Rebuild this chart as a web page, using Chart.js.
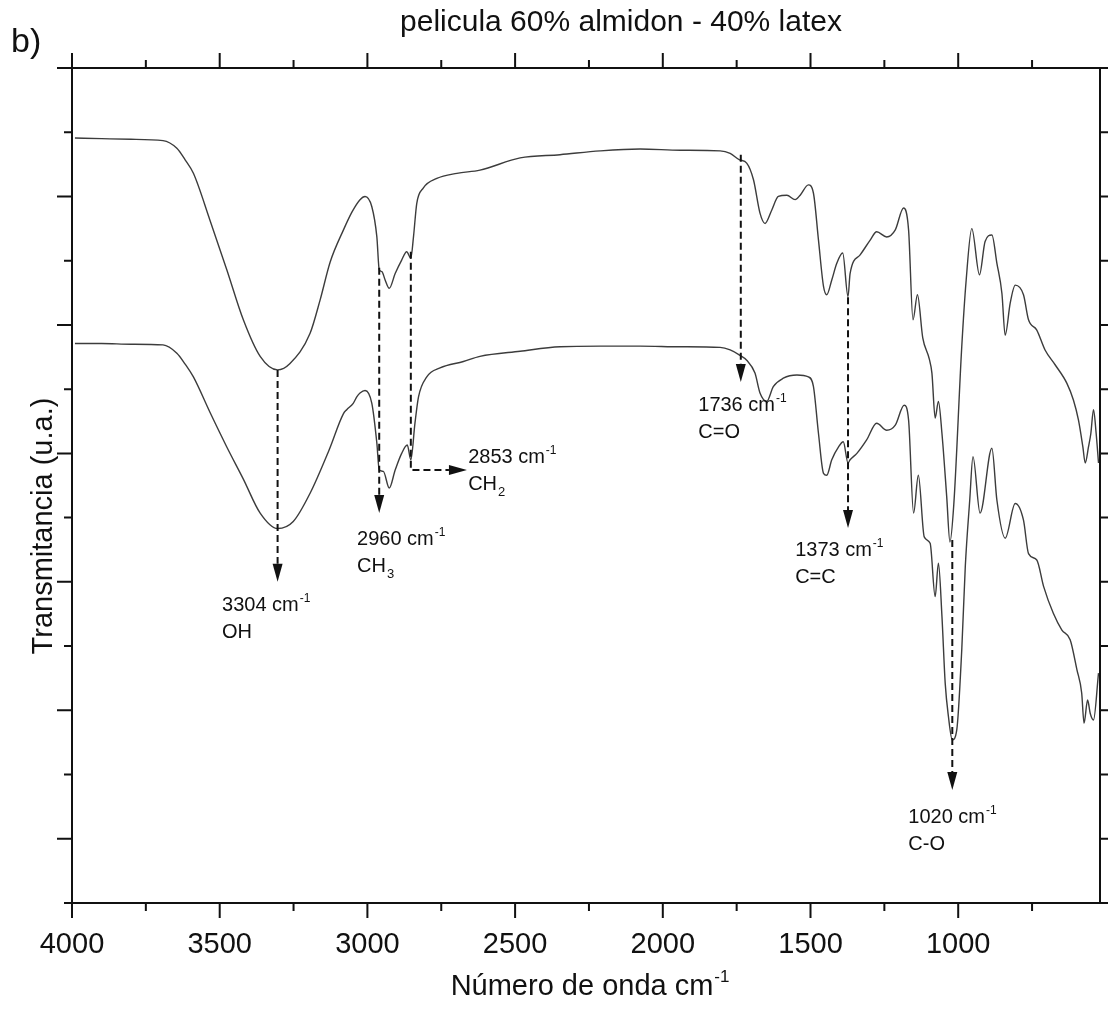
<!DOCTYPE html>
<html>
<head>
<meta charset="utf-8">
<script src="https://cdn.jsdelivr.net/npm/chart.js@4.4.1/dist/chart.umd.min.js"></script>
<style>
  html, body { margin: 0; padding: 0; background: #fff; }
  #wrap { width: 1108px; height: 1009px; }
</style>
</head>
<body>
<div id="wrap"><canvas id="ftir"></canvas></div>
<script>
// wavenumber (cm-1) and transmittance (u.a.)
const wnTop = [3990, 3900, 3800, 3692, 3645, 3617, 3589, 3533, 3476, 3420, 3363, 3304, 3262, 3194, 3160, 3126, 3081, 3052, 3025, 3008, 2985, 2968, 2960, 2951, 2940, 2926, 2906, 2884, 2867, 2853, 2844, 2833, 2811, 2765, 2697, 2619, 2483, 2348, 2212, 2077, 1941, 1806, 1772, 1740, 1716, 1693, 1671, 1654, 1631, 1609, 1580, 1552, 1535, 1507, 1490, 1473, 1456, 1445, 1428, 1411, 1391, 1373, 1366, 1332, 1298, 1276, 1242, 1213, 1185, 1168, 1153, 1138, 1120, 1098, 1089, 1078, 1067, 1055, 1039, 1028, 1015, 988, 973, 954, 928, 909, 886, 869, 852, 841, 824, 807, 779, 762, 734, 706, 672, 632, 610, 593, 578, 570, 559, 551, 542, 533, 525];
const tTop = [11.91, 11.90, 11.89, 11.87, 11.75, 11.57, 11.36, 10.63, 9.86, 9.08, 8.51, 8.30, 8.40, 8.87, 9.39, 9.98, 10.48, 10.76, 10.95, 11.00, 10.84, 10.37, 9.86, 9.83, 9.70, 9.57, 9.80, 10.01, 10.14, 10.04, 10.37, 10.89, 11.13, 11.28, 11.36, 11.41, 11.60, 11.65, 11.71, 11.74, 11.72, 11.71, 11.67, 11.57, 11.52, 11.26, 10.74, 10.58, 10.79, 11.00, 11.02, 10.95, 11.02, 11.18, 11.05, 10.32, 9.60, 9.47, 9.70, 9.96, 10.12, 9.44, 9.80, 10.09, 10.32, 10.45, 10.37, 10.48, 10.82, 10.48, 9.08, 9.47, 8.80, 8.47, 8.25, 7.55, 7.81, 7.31, 6.33, 5.62, 6.20, 8.66, 9.70, 10.50, 9.78, 10.30, 10.40, 9.96, 9.49, 8.84, 9.34, 9.62, 9.47, 9.08, 8.92, 8.61, 8.38, 8.09, 7.83, 7.52, 7.10, 6.85, 7.10, 7.31, 7.68, 7.31, 6.85];

const wnBottom = [3990, 3900, 3800, 3692, 3645, 3617, 3589, 3533, 3476, 3420, 3363, 3304, 3251, 3194, 3130, 3081, 3070, 3048, 3036, 3025, 3008, 2985, 2968, 2960, 2946, 2926, 2906, 2884, 2865, 2853, 2839, 2827, 2799, 2754, 2675, 2619, 2483, 2348, 2212, 2077, 1941, 1806, 1772, 1740, 1716, 1688, 1671, 1648, 1626, 1592, 1546, 1507, 1490, 1473, 1456, 1445, 1428, 1405, 1389, 1373, 1366, 1343, 1310, 1276, 1242, 1213, 1183, 1168, 1151, 1135, 1115, 1095, 1078, 1067, 1055, 1044, 1033, 1020, 1005, 988, 976, 961, 950, 926, 886, 869, 841, 807, 779, 762, 734, 711, 678, 649, 621, 598, 582, 574, 562, 553, 542, 525];
const tBottom = [8.71, 8.71, 8.70, 8.69, 8.56, 8.39, 8.19, 7.64, 7.10, 6.60, 6.07, 5.83, 5.94, 6.38, 7.05, 7.62, 7.68, 7.78, 7.88, 7.94, 7.98, 7.78, 7.16, 6.74, 6.72, 6.46, 6.74, 7.00, 7.13, 6.90, 7.47, 7.88, 8.19, 8.33, 8.43, 8.51, 8.59, 8.66, 8.67, 8.67, 8.66, 8.65, 8.61, 8.53, 8.45, 8.25, 7.94, 7.81, 8.04, 8.17, 8.22, 8.19, 8.04, 7.31, 6.69, 6.66, 6.90, 7.10, 7.18, 6.85, 6.90, 7.00, 7.21, 7.47, 7.36, 7.44, 7.75, 7.52, 6.07, 6.66, 5.70, 5.60, 4.77, 5.29, 4.46, 3.42, 2.90, 2.54, 2.69, 3.94, 5.24, 6.27, 6.95, 6.07, 7.08, 6.27, 5.68, 6.22, 5.96, 5.44, 5.34, 4.93, 4.51, 4.25, 4.10, 3.63, 3.27, 2.80, 3.16, 2.95, 2.85, 3.58];

// marked bands
const peakWn = [3304, 2960, 2853, 1736, 1373, 1020];
const peakGroup = ['OH', 'CH3', 'CH2', 'C=O', 'C=C', 'C-O'];

// axis ticks
const xMajorTicks = [4000, 3500, 3000, 2500, 2000, 1500, 1000];
const xMinorTicks = [3750, 3250, 2750, 2250, 1750, 1250, 750];
const yTicks = [0, 1, 2, 3, 4, 5, 6, 7, 8, 9, 10, 11, 12, 13];

const FONT = '"Liberation Sans", Arial, sans-serif';
const INK = '#111';

// where each arrow starts/ends and where its text goes (data units)
const marks = [
  { from: 8.30, to: 5.00, lx: 3492, ly: 4.55 },
  { from: 9.89, to: 6.07, lx: 3035, ly: 5.57 },
  { from: 10.14, to: 6.74, bend: 2663, lx: 2659, ly: 6.85 },
  { from: 11.65, to: 8.11, lx: 1880, ly: 7.66 },
  { from: 9.43, to: 5.84, lx: 1552, ly: 5.40 },
  { from: 5.65, to: 1.76, lx: 1169, ly: 1.25 }
];

function drawCm(ctx, px, py, num) {
  ctx.font = '20px ' + FONT;
  const s = num + ' cm';
  ctx.fillText(s, px, py);
  const w = ctx.measureText(s).width;
  ctx.font = '12px ' + FONT;
  ctx.fillText('-1', w + px + 1, py - 9);
}

function drawGroup(ctx, px, py, g) {
  ctx.font = '20px ' + FONT;
  const m = g.match(/^(CH)(\d)$/);
  if (m) {
    ctx.fillText(m[1], px, py);
    const w = ctx.measureText(m[1]).width;
    ctx.font = '13px ' + FONT;
    ctx.fillText(m[2], px + w + 1, py + 6);
  } else {
    ctx.fillText(g, px, py);
  }
}

const decorations = {
  id: 'decorations',
  afterDraw(chart) {
    const { ctx, chartArea: a, scales: { x, y } } = chart;
    ctx.save();
    ctx.strokeStyle = INK;
    ctx.fillStyle = INK;
    ctx.lineWidth = 2;

    // frame + ticks (outward on every side)
    ctx.strokeRect(a.left, a.top, a.right - a.left, a.bottom - a.top);
    ctx.beginPath();
    const xt = (v, len) => {
      const p = x.getPixelForValue(v);
      ctx.moveTo(p, a.bottom); ctx.lineTo(p, a.bottom + len);
      ctx.moveTo(p, a.top); ctx.lineTo(p, a.top - len);
    };
    xMajorTicks.forEach(v => xt(v, 15));
    xMinorTicks.forEach(v => xt(v, 8));
    yTicks.forEach(v => {
      const p = y.getPixelForValue(v);
      const len = v % 2 ? 15 : 8;
      ctx.moveTo(a.left, p); ctx.lineTo(a.left - len, p);
      ctx.moveTo(a.right, p); ctx.lineTo(a.right + len, p);
    });
    ctx.stroke();

    // dashed arrows + band labels
    ctx.textBaseline = 'alphabetic';
    ctx.textAlign = 'left';
    const head = 18, hw = 5;
    marks.forEach((m, i) => {
      const px = x.getPixelForValue(peakWn[i]);
      const y0 = y.getPixelForValue(m.from);
      const y1 = y.getPixelForValue(m.to);
      ctx.setLineDash([7, 4]);
      ctx.lineWidth = 2;
      ctx.beginPath();
      ctx.moveTo(px, y0);
      if (m.bend) {
        const bx = x.getPixelForValue(m.bend);
        ctx.lineTo(px, y1);
        ctx.lineTo(bx - head, y1);
        ctx.stroke();
        ctx.setLineDash([]);
        ctx.beginPath();
        ctx.moveTo(bx, y1); ctx.lineTo(bx - head, y1 - hw); ctx.lineTo(bx - head, y1 + hw);
        ctx.closePath(); ctx.fill();
      } else {
        ctx.lineTo(px, y1 - head);
        ctx.stroke();
        ctx.setLineDash([]);
        ctx.beginPath();
        ctx.moveTo(px, y1); ctx.lineTo(px - hw, y1 - head); ctx.lineTo(px + hw, y1 - head);
        ctx.closePath(); ctx.fill();
      }
      const lx = x.getPixelForValue(m.lx);
      const ly = y.getPixelForValue(m.ly);
      drawCm(ctx, lx, ly, peakWn[i]);
      drawGroup(ctx, lx, ly + 27, peakGroup[i]);
    });

    // titles
    ctx.font = '30px ' + FONT;
    ctx.textAlign = 'center';
    ctx.fillText('pelicula 60% almidon - 40% latex', 621, 31);
    ctx.textAlign = 'left';
    ctx.font = '34px ' + FONT;
    ctx.fillText('b)', 11, 52);

    ctx.font = '29px ' + FONT;
    const xt1 = 'Número de onda cm';
    const w1 = ctx.measureText(xt1).width;
    const x0 = 582 - w1 / 2;
    ctx.fillText(xt1, x0, 995);
    ctx.font = '17px ' + FONT;
    ctx.fillText('-1', x0 + w1 + 1, 982);

    ctx.save();
    ctx.translate(52, 526);
    ctx.rotate(-Math.PI / 2);
    ctx.font = '29px ' + FONT;
    ctx.textAlign = 'center';
    ctx.fillText('Transmitancia (u.a.)', 0, 0);
    ctx.restore();

    ctx.restore();
  }
};

new Chart(document.getElementById('ftir'), {
  type: 'line',
  data: {
    datasets: [
      {
        label: 'superior',
        data: wnTop.map((w, i) => ({ x: w, y: tTop[i] })),
        borderColor: '#3c3c3c',
        borderWidth: 1.4,
        pointRadius: 0,
        cubicInterpolationMode: 'monotone'
      },
      {
        label: 'inferior',
        data: wnBottom.map((w, i) => ({ x: w, y: tBottom[i] })),
        borderColor: '#3c3c3c',
        borderWidth: 1.4,
        pointRadius: 0,
        cubicInterpolationMode: 'monotone'
      }
    ]
  },
  options: {
    responsive: true,
    maintainAspectRatio: false,
    animation: false,
    layout: { padding: { top: 68, right: 8, left: 0, bottom: 0 } },
    plugins: { legend: false, tooltip: { enabled: false } },
    scales: {
      x: {
        type: 'linear',
        reverse: true,
        min: 520,
        max: 4000,
        grid: { display: false, drawTicks: false },
        border: { display: false },
        afterBuildTicks: s => { s.ticks = xMajorTicks.map(v => ({ value: v })); },
        afterFit: s => { s.height = 106; },
        ticks: {
          autoSkip: false,
          maxRotation: 0,
          padding: 25,
          color: INK,
          font: { family: FONT, size: 29 },
          callback: v => String(v)
        }
      },
      y: {
        min: 0,
        max: 13,
        grid: { display: false, drawTicks: false },
        border: { display: false },
        ticks: { display: false, stepSize: 1 },
        afterFit: s => { s.width = 72; }
      }
    }
  },
  plugins: [decorations]
});
</script>
</body>
</html>
